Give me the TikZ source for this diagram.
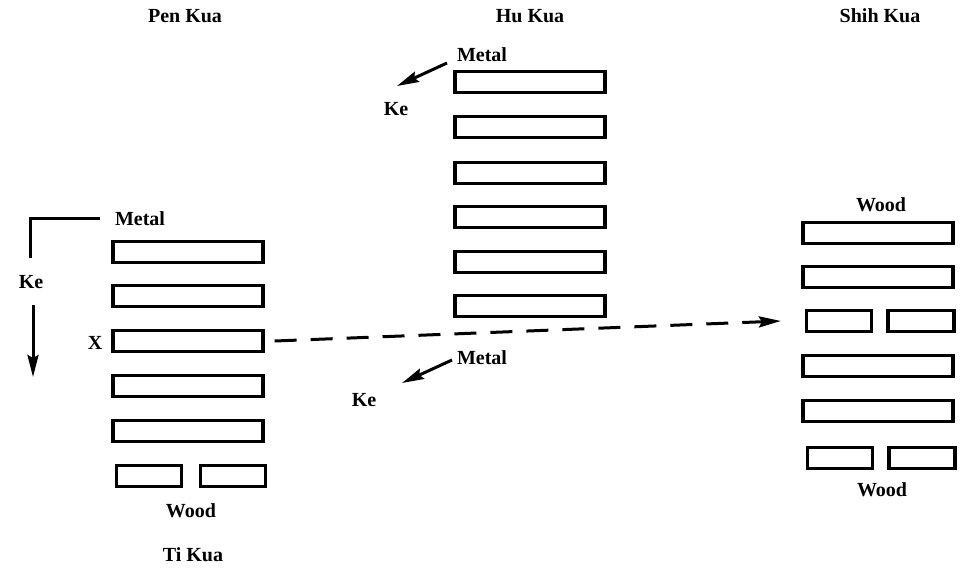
\documentclass[tikz,border=0pt]{standalone}
\usepackage{fontspec}
\setmainfont{Liberation Serif}
\usetikzlibrary{arrows.meta,positioning}

\begin{document}
\begin{tikzpicture}[x=1pt,y=-1pt,>=Stealth,
 every node/.style={font=\fontsize{20}{24}\selectfont\bfseries,inner sep=2pt},
 bar/.style={draw,line width=3.2pt,minimum height=21pt,inner sep=0pt,minimum width=#1},
 bar/.default=150pt,
 keline/.style={line width=3pt,-{Stealth[length=22pt,width=11pt,inset=3pt]}}]
\useasboundingbox (0,0) rectangle (966,568);
% titles
\node (pentitle) at (185,16) {Pen Kua};
\node (hutitle) at (530,16) {Hu Kua};
\node (shihtitle) at (880,16) {Shih Kua};
\node (tititle) at (193,555) {Ti Kua};
% Pen Kua
\foreach \y [count=\i] in {252,296,341,386,431}
  \node[bar] (pen\i) at (188,\y) {};
\node[bar=65pt] (pen6a) at (149,476) {};
\node[bar=65pt] (pen6b) at (233,476) {};
\node (penmetal) at (140,219) {Metal};
\node (penwood) at (191,511) {Wood};
\node (penx) at (95,343) {X};
\node (penke) at (31,282) {Ke};
\coordinate (kestart) at (100,218);
\coordinate (kecorner) at (30,218);
\draw[line width=3pt] (kestart) -- (kecorner) -- (kecorner |- 0,258);
\draw[keline] (33,305) -- (33,377);
% Hu Kua
\foreach \y [count=\i] in {82,127,173,217,262,306}
  \node[bar] (hu\i) at (530,\y) {};
\node (hutopmetal) at (482,55) {Metal};
\node (hutopke) at (396,109) {Ke};
\node (hubotmetal) at (482,358) {Metal};
\node (hubotke) at (364,400) {Ke};
\draw[keline] (447,63) -- (397,86);
\draw[keline] (452,360) -- (402,383);
% Shih Kua
\foreach \y [count=\i] in {233,277}
  \node[bar] (shih\i) at (878,\y) {};
\node[bar=65pt] (shih3a) at (839,321) {};
\node[bar=66pt] (shih3b) at (921,321) {};
\foreach \y [count=\i from 4] in {366,411}
  \node[bar] (shih\i) at (878,\y) {};
\node[bar=65pt] (shih6a) at (840,458) {};
\node[bar=66pt] (shih6b) at (922,458) {};
\node (shihtopwood) at (881,205) {Wood};
\node (shihbotwood) at (882,490) {Wood};
% moving line
\draw[keline,dash pattern=on 22pt off 14pt] ([xshift=10pt]pen3.east) -- ([xshift=-24pt]shih3a.west);
\end{tikzpicture}
\end{document}
